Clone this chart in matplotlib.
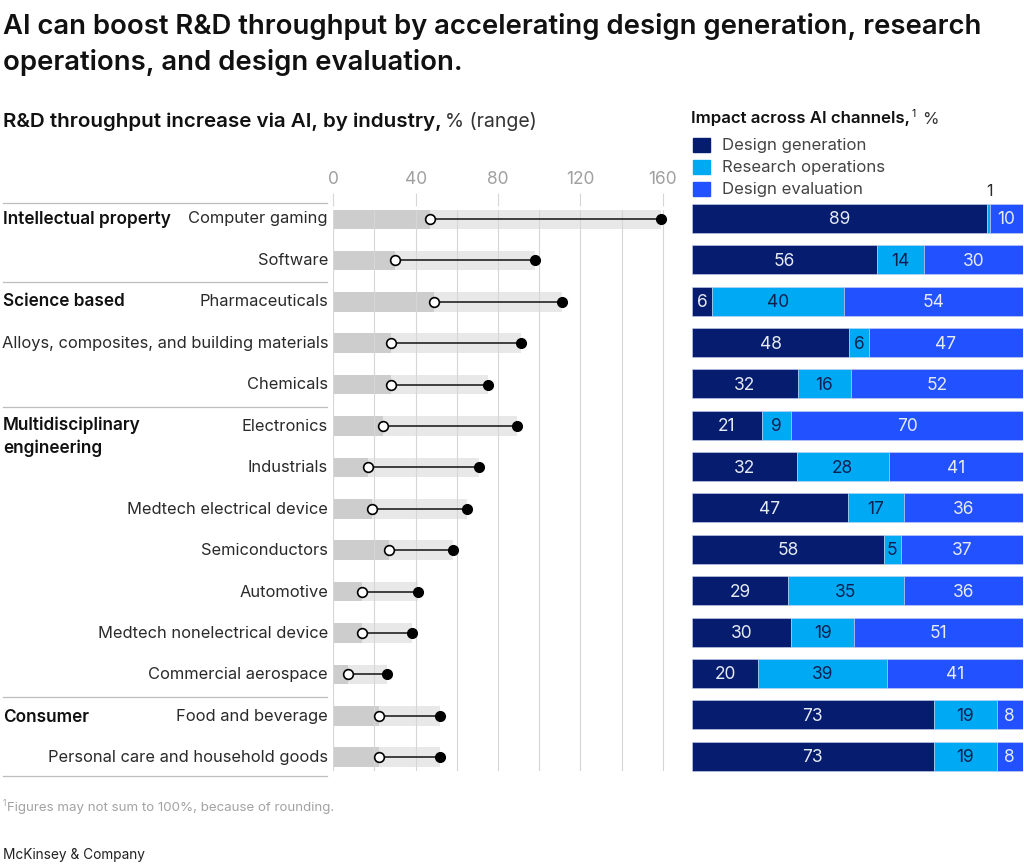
import numpy as np
import matplotlib
matplotlib.use('Agg')
import matplotlib.pyplot as plt

plt.rcParams['font.family'] = ['Inter', 'DejaVu Sans']

industries = ['Computer gaming', 'Software', 'Pharmaceuticals',
              'Alloys, composites, and building materials', 'Chemicals',
              'Electronics', 'Industrials', 'Medtech electrical device',
              'Semiconductors', 'Automotive', 'Medtech nonelectrical device',
              'Commercial aerospace', 'Food and beverage',
              'Personal care and household goods']
low = [47, 30, 49, 28, 28, 24, 17, 19, 27, 14, 14, 7, 22, 22]
high = [159, 98, 111, 91, 75, 89, 71, 65, 58, 41, 38, 26, 52, 52]
design_gen = [89, 56, 6, 48, 32, 21, 32, 47, 58, 29, 30, 20, 73, 73]
research_ops = [1, 14, 40, 6, 16, 9, 28, 17, 5, 35, 19, 39, 19, 19]
design_eval = [10, 30, 54, 47, 52, 70, 41, 36, 37, 36, 51, 41, 8, 8]
channels = ['Design generation', 'Research operations', 'Design evaluation']
channel_colors = ['#051C6F', '#00A9F4', '#2251FF']
ticks = [0, 40, 80, 120, 160]

W, H = 1024, 868
DARK = '#2A2A2A'
GREY = '#A0A0A0'
GRID = '#D6D6D6'


def axes_px(x0, y0, x1, y1):
    return fig.add_axes([x0 / W, 1 - y1 / H, (x1 - x0) / W, (y1 - y0) / H])


def txt(x, y, s, size=11.85, color=DARK, ha='left', weight='normal'):
    return fig.text(x / W, 1 - y / H, s, fontsize=size, color=color, ha=ha,
                    va='center', fontweight=weight)


fig = plt.figure(figsize=(W / 100, H / 100), dpi=100)

# range panel
row0, step = 219, 41.4
ax = axes_px(333.3, 210, 680, 771)
ax.set_xlim(0, (680 - 333.3) / 2.059)
ax.set_ylim((771 - row0) / step, (210 - row0) / step)
y = np.arange(len(industries))
ax.barh(y, high, height=0.47, color='#E8E8E8', zorder=1)
ax.barh(y, low, height=0.47, color='#CDCDCD', zorder=1)
ax.hlines(y, low, high, color='#222222', lw=1.2, zorder=3)
ax.plot(high, y, 'o', color='black', ms=7, zorder=4, ls='none')
ax.plot(low, y, 'o', mfc='white', mec='black', mew=1.2, ms=7, zorder=4, ls='none')
for s in ax.spines.values():
    s.set_visible(False)
ax.xaxis.tick_top()
ax.spines['top'].set_position(('outward', 3))
ax.set_xticks(ticks)
ax.set_xticks(np.arange(20, 161, 40), minor=True)
ax.tick_params(axis='x', which='major', length=9.5, width=0.8, color=GRID, pad=3,
               labelsize=12.5, labelcolor=GREY)
ax.tick_params(axis='x', which='minor', length=0)
ax.grid(axis='x', which='both', color=GRID, lw=0.8, zorder=2)
ax.set_axisbelow(False)
ax.set_yticks([])

for i, name in enumerate(industries):
    txt(328, 219 + i * 41.45, name, ha='right')

# share panel
ax2 = axes_px(692, 204, 1023, 772)
gen = np.array(design_gen, float)
ops = np.array(research_ops, float)
ev = np.array(design_eval, float)
total = gen + ops + ev
y2 = np.arange(len(industries)) * 41.35 + 14.5
ax2.set_xlim(0, 1)
ax2.set_ylim(568, 0)
left = np.zeros(len(industries))
for vals, col, lab_col in zip((gen, ops, ev), channel_colors, ('#E6EAF5', '#0B2150', '#E6EAF5')):
    share = vals / total
    ax2.barh(y2, share, left=left, height=29, color=col, edgecolor='#C9D3EE', lw=0.4)
    for yy, l, sh, v in zip(y2, left, share, vals):
        if v >= 5:
            ax2.text(l + sh / 2, yy + 1.5, f'{int(v)}', ha='center', va='center',
                     color=lab_col, fontsize=12.5)
    left = left + share
ax2.axis('off')

# text
txt(3, 27, 'AI can boost R&D throughput by accelerating design generation, research',
    size=19.8, color='#111111', weight='semibold')
txt(3, 62, 'operations, and design evaluation.', size=19.8, color='#111111', weight='semibold')

txt(3, 121.5, 'R&D throughput increase via AI, by industry,', size=14.8, color='#111111',
    weight='semibold')
txt(445, 121.5, '% (range)', size=14, color='#333333')
txt(691, 119, 'Impact across AI channels,', size=12.1, color='#111111', weight='semibold')
txt(912, 114, '1', size=7.5, color='#111111')
txt(922, 119, '%', size=12.1, color='#333333')

for i, (name, col) in enumerate(zip(channels, channel_colors)):
    yy = 144.5 + i * 22
    fig.patches.append(plt.Rectangle((693 / W, 1 - (yy + 7) / H), 17 / W, 14 / H,
                                     transform=fig.transFigure, color=col))
    txt(721.5, yy + 1, name, size=12.05, color='#444444')
txt(986, 192, '1', size=11.5)

for yy, lab in zip([219.5, 302, 717], ['Intellectual property', 'Science based', 'Consumer']):
    txt(3, yy, lab, size=12.4, color='#111111', weight='semibold')
txt(3, 425, 'Multidisciplinary', size=12.4, color='#111111', weight='semibold')
txt(3, 448, 'engineering', size=12.4, color='#111111', weight='semibold')

for yy in [202.5, 282, 407, 696.5, 776]:
    fig.add_artist(plt.Line2D([3 / W, 327 / W], [1 - yy / H, 1 - yy / H], color='#BDBDBD', lw=0.9))

txt(3, 804, '1', size=6, color='#A3A3A3')
txt(7, 808, 'Figures may not sum to 100%, because of rounding.', size=9.6, color='#A3A3A3')
txt(3, 855, 'McKinsey & Company', size=9.85, color='#222222')

fig.savefig('out.png', dpi=100)
